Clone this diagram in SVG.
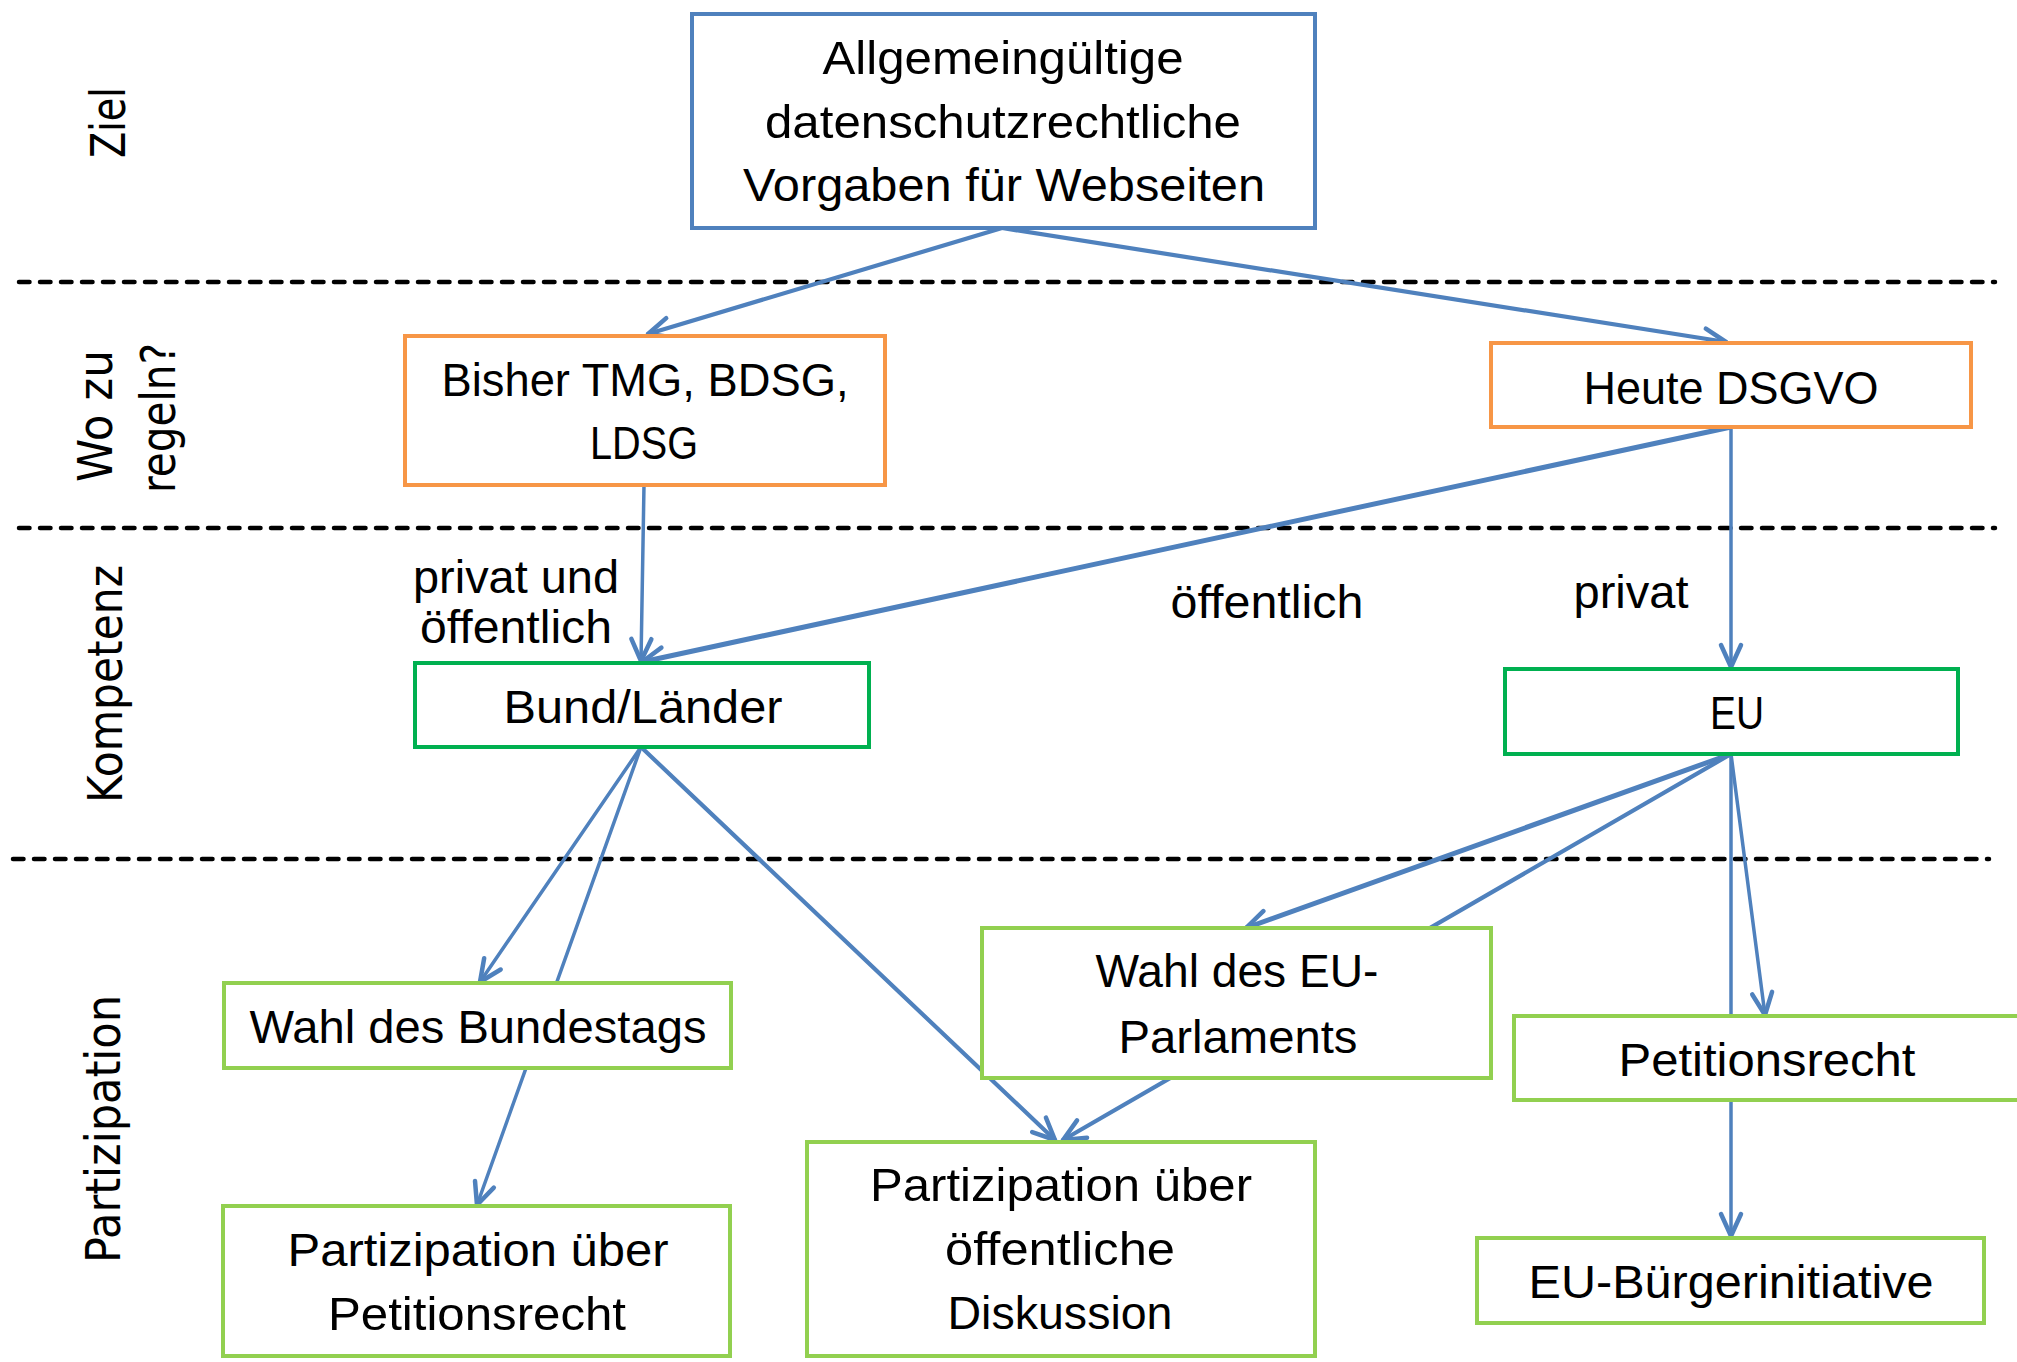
<svg xmlns="http://www.w3.org/2000/svg" width="2017" height="1362" viewBox="0 0 2017 1362">
<style>
.bg{fill:#ffffff}
.box{fill:#ffffff;stroke-width:4}
.blue{stroke:#4F81BD}
.orange{stroke:#F79646}
.green{stroke:#00B050}
.lgreen{stroke:#92D050}
.t{font-family:"Liberation Sans",Arial,sans-serif;font-size:47px;fill:#000;text-anchor:middle}
.lab{font-family:"DejaVu Sans",Verdana,sans-serif;font-size:48px;fill:#000;text-anchor:middle}
.dash{stroke:#000;stroke-width:4.5;stroke-linecap:round;stroke-dasharray:10.5 10.5;fill:none}
.c{stroke:#4F81BD;fill:none;stroke-linecap:round}
.w35{stroke-width:3.5}
.w4{stroke-width:4.2}
.w5{stroke-width:5}
</style>
<defs>
<marker id="arr" markerUnits="userSpaceOnUse" markerWidth="32" markerHeight="32" viewBox="0 0 32 32" refX="26" refY="16" orient="auto">
<path d="M4,6 L26,16 L4,26" fill="none" stroke="#4F81BD" stroke-width="4.5" stroke-linecap="round" stroke-linejoin="round"/>
</marker>
</defs>
<rect class="bg" x="0" y="0" width="2017" height="1362"/>

<g id="section-labels">
<text class="lab" transform="translate(125,122.5) rotate(-90)" textLength="71" lengthAdjust="spacingAndGlyphs">Ziel</text>
<text class="lab" transform="translate(112,416) rotate(-90)" textLength="132" lengthAdjust="spacingAndGlyphs">Wo zu</text>
<text class="lab" transform="translate(175,418) rotate(-90)" textLength="150" lengthAdjust="spacingAndGlyphs">regeln?</text>
<text class="lab" transform="translate(122,684) rotate(-90)" textLength="238" lengthAdjust="spacingAndGlyphs">Kompetenz</text>
<text class="lab" transform="translate(120,1129) rotate(-90)" textLength="268" lengthAdjust="spacingAndGlyphs">Partizipation</text>
</g>

<g id="dividers">
<line class="dash" x1="19" y1="282" x2="1995" y2="282"/>
<line class="dash" x1="19" y1="528" x2="1995" y2="528"/>
<line class="dash" x1="13" y1="859" x2="1989" y2="859"/>
</g>

<g id="connectors">
<line class="c w4" x1="1002" y1="228" x2="648" y2="334" marker-end="url(#arr)"/>
<line class="c w4" x1="1002" y1="228" x2="1726" y2="342" marker-end="url(#arr)"/>
<line class="c w5" x1="1731" y1="427" x2="642" y2="662" marker-end="url(#arr)"/>
<line class="c w35" x1="644" y1="485" x2="641" y2="661" marker-end="url(#arr)"/>
<line class="c w35" x1="1731" y1="427" x2="1731" y2="667" marker-end="url(#arr)"/>
<line class="c w35" x1="641" y1="747" x2="480" y2="982" marker-end="url(#arr)"/>
<line class="c w35" x1="641" y1="747" x2="477" y2="1205" marker-end="url(#arr)"/>
<line class="c w4" x1="641" y1="747" x2="1055" y2="1140" marker-end="url(#arr)"/>
<line class="c w5" x1="1731" y1="754" x2="1246" y2="928" marker-end="url(#arr)"/>
<line class="c w4" x1="1731" y1="754" x2="1063" y2="1140" marker-end="url(#arr)"/>
<line class="c w35" x1="1731" y1="754" x2="1765" y2="1015" marker-end="url(#arr)"/>
<line class="c w35" x1="1731" y1="754" x2="1731" y2="1236" marker-end="url(#arr)"/>
</g>

<g id="edge-labels">
<text class="t" x="516" y="593" textLength="206" lengthAdjust="spacingAndGlyphs">privat und</text>
<text class="t" x="516" y="643" textLength="192" lengthAdjust="spacingAndGlyphs">öffentlich</text>
<text class="t" x="1267" y="618" textLength="193" lengthAdjust="spacingAndGlyphs">öffentlich</text>
<text class="t" x="1631" y="608" textLength="115" lengthAdjust="spacingAndGlyphs">privat</text>
</g>

<g id="node-ziel">
<rect class="box blue" x="692" y="14" width="623" height="214"/>
<text class="t" x="1003" y="74" textLength="361" lengthAdjust="spacingAndGlyphs">Allgemeingültige</text>
<text class="t" x="1003" y="138" textLength="476" lengthAdjust="spacingAndGlyphs">datenschutzrechtliche</text>
<text class="t" x="1004" y="201" textLength="522" lengthAdjust="spacingAndGlyphs">Vorgaben für Webseiten</text>
</g>

<g id="node-bisher">
<rect class="box orange" x="405" y="336" width="480" height="149"/>
<text class="t" x="645" y="396" textLength="407" lengthAdjust="spacingAndGlyphs">Bisher TMG, BDSG,</text>
<text class="t" x="644" y="459" textLength="108" lengthAdjust="spacingAndGlyphs">LDSG</text>
</g>

<g id="node-heute">
<rect class="box orange" x="1491" y="343" width="480" height="84"/>
<text class="t" x="1731" y="404" textLength="295" lengthAdjust="spacingAndGlyphs">Heute DSGVO</text>
</g>

<g id="node-bund">
<rect class="box green" x="415" y="663" width="454" height="84"/>
<text class="t" x="643" y="723" textLength="279" lengthAdjust="spacingAndGlyphs">Bund/Länder</text>
</g>

<g id="node-eu">
<rect class="box green" x="1505" y="669" width="453" height="85"/>
<text class="t" x="1737" y="729" textLength="54" lengthAdjust="spacingAndGlyphs">EU</text>
</g>

<g id="node-wahl-bundestag">
<rect class="box lgreen" x="224" y="983" width="507" height="85"/>
<text class="t" x="478" y="1043" textLength="457" lengthAdjust="spacingAndGlyphs">Wahl des Bundestags</text>
</g>

<g id="node-wahl-eu">
<rect class="box lgreen" x="982" y="928" width="509" height="150"/>
<text class="t" x="1237" y="987" textLength="283" lengthAdjust="spacingAndGlyphs">Wahl des EU-</text>
<text class="t" x="1238" y="1053" textLength="239" lengthAdjust="spacingAndGlyphs">Parlaments</text>
</g>

<g id="node-petitionsrecht-eu">
<rect class="box lgreen" x="1514" y="1016" width="506" height="84"/>
<text class="t" x="1767" y="1076" textLength="297" lengthAdjust="spacingAndGlyphs">Petitionsrecht</text>
</g>

<g id="node-partizipation-petition">
<rect class="box lgreen" x="223" y="1206" width="507" height="150"/>
<text class="t" x="478" y="1266" textLength="381" lengthAdjust="spacingAndGlyphs">Partizipation über</text>
<text class="t" x="477" y="1330" textLength="298" lengthAdjust="spacingAndGlyphs">Petitionsrecht</text>
</g>

<g id="node-partizipation-diskussion">
<rect class="box lgreen" x="807" y="1142" width="508" height="214"/>
<text class="t" x="1061" y="1201" textLength="382" lengthAdjust="spacingAndGlyphs">Partizipation über</text>
<text class="t" x="1060" y="1265" textLength="230" lengthAdjust="spacingAndGlyphs">öffentliche</text>
<text class="t" x="1060" y="1329" textLength="225" lengthAdjust="spacingAndGlyphs">Diskussion</text>
</g>

<g id="node-buergerinitiative">
<rect class="box lgreen" x="1477" y="1238" width="507" height="85"/>
<text class="t" x="1731" y="1298" textLength="405" lengthAdjust="spacingAndGlyphs">EU-Bürgerinitiative</text>
</g>
</svg>
